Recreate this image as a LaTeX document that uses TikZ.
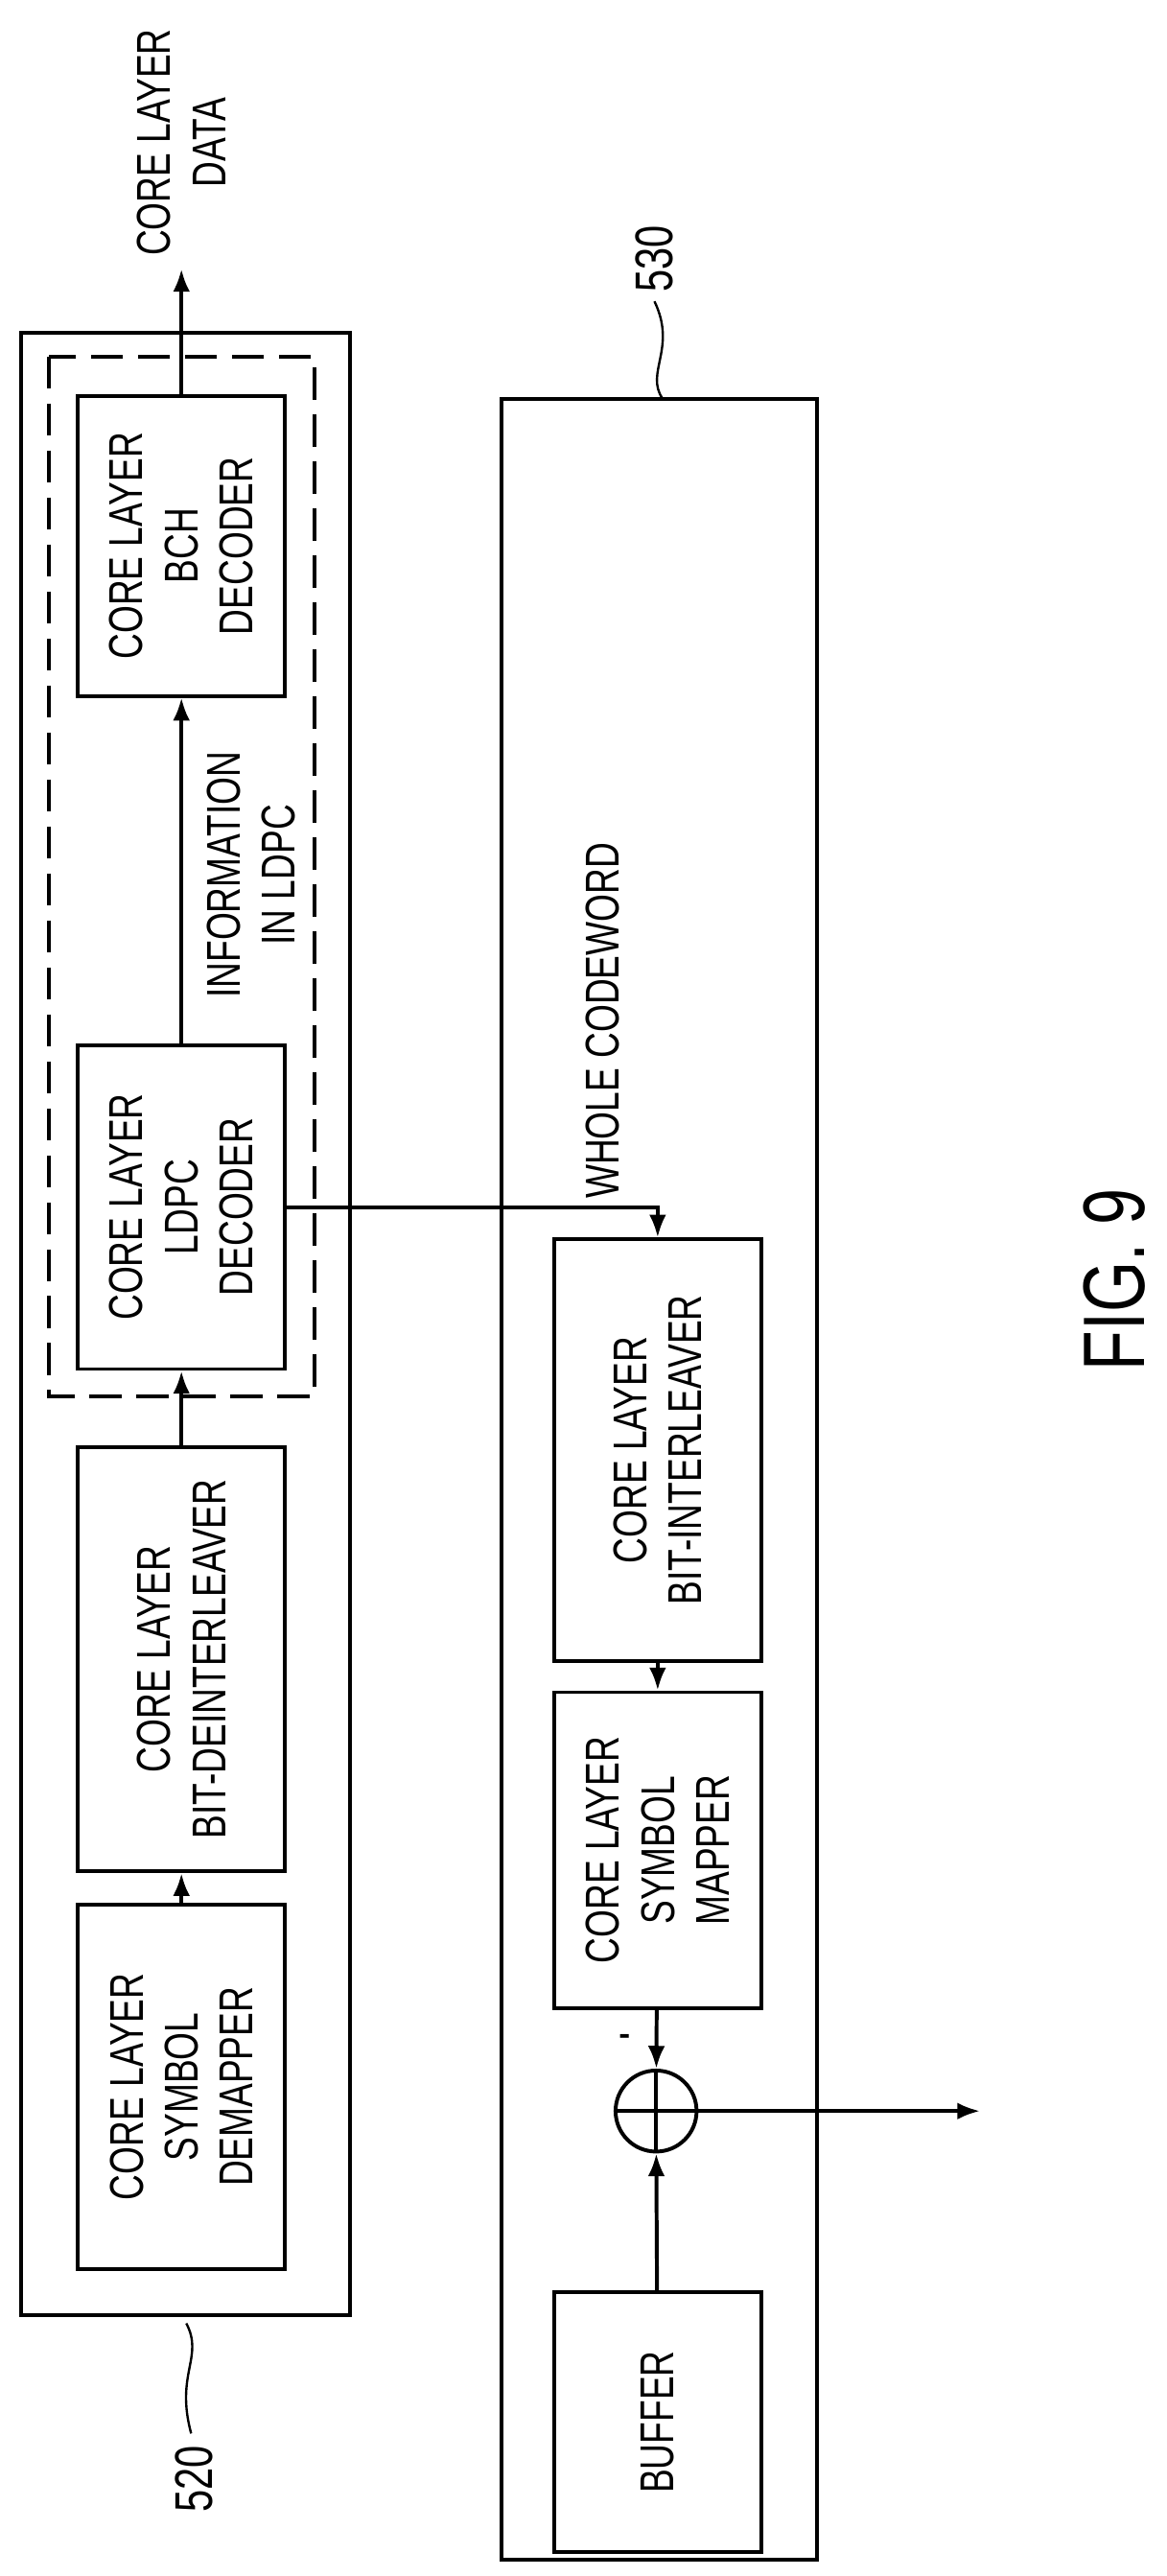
\documentclass[tikz,border=0pt]{standalone}
\usepackage{fontspec}
\setmainfont{Liberation Sans}[FakeStretch=0.75]
\usetikzlibrary{arrows.meta}
\begin{document}
\begin{tikzpicture}[x=0.03cm,y=-0.03cm,line width=2pt,
  box/.style={draw,rotate=90,align=center,inner sep=0pt,font=\fontsize{25}{29}\selectfont},
  lbl/.style={rotate=90,align=center,font=\fontsize{25}{29}\selectfont},
  arr/.style={-{Latex[length=12pt,width=9pt]}}]
\useasboundingbox (0,0) rectangle (720,1590);
\node[box,minimum width=36.7cm,minimum height=6.09cm] (outL) at (114.5,817) {};
\node[box,dash pattern=on 0.6cm off 0.27cm,minimum width=19.26cm,minimum height=4.92cm] (dash) at (112,541) {};
\node[box,minimum width=40.0cm,minimum height=5.85cm] (outR) at (407,913) {};
\node[box,minimum width=5.55cm,minimum height=3.84cm] (bch) at (112,337) {CORE LAYER\\BCH\\DECODER};
\node[box,minimum width=6cm,minimum height=3.84cm] (ldpc) at (112,745) {CORE LAYER\\LDPC\\DECODER};
\node[box,minimum width=7.86cm,minimum height=3.84cm] (deint) at (112,1024) {CORE LAYER\\BIT-DEINTERLEAVER};
\node[box,minimum width=6.75cm,minimum height=3.84cm] (demap) at (112,1288) {CORE LAYER\\SYMBOL\\DEMAPPER};
\node[box,minimum width=7.8cm,minimum height=3.84cm] (intl) at (406,895) {CORE LAYER\\BIT-INTERLEAVER};
\node[box,minimum width=5.85cm,minimum height=3.84cm] (map) at (406,1142) {CORE LAYER\\SYMBOL\\MAPPER};
\node[box,minimum width=4.8cm,minimum height=3.84cm] (buf) at (406,1495) {BUFFER};
\node[draw,circle,minimum size=1.5cm,inner sep=0pt,
  path picture={\draw (path picture bounding box.north) -- (path picture bounding box.south)
  (path picture bounding box.west) -- (path picture bounding box.east);}] (sum) at (405,1303) {};
\coordinate (data) at (112,166);
\coordinate (out) at (605,1303);
\draw[arr] (demap) -- (deint);
\draw[arr] (deint) -- (ldpc);
\draw[arr] (ldpc) -- (bch);
\draw[arr] (bch) -- (data);
\draw[arr] (ldpc) -| (intl);
\draw[arr] (intl) -- (map);
\draw[arr] (map) -- (sum);
\draw[arr] (buf) -- (sum);
\draw[arr] (sum) -- (out);
\node[lbl] (info) at (155,540) {INFORMATION\\IN LDPC};
\node[lbl] (cld) at (112,88) {CORE LAYER\\DATA};
\node[lbl] (wc) at (372,630) {WHOLE CODEWORD};
\node[font=\fontsize{25}{29}\selectfont] (minus) at (386,1260) {-};
\node[lbl,font=\fontsize{28}{32}\selectfont] (n530) at (404,160) {530};
\node[lbl,font=\fontsize{28}{32}\selectfont] (n520) at (120,1530) {520};
\node[lbl,font=\fontsize{46}{52}\selectfont] (fig) at (688,790) {FIG. 9};
\draw[line width=1.2pt] (409,246) .. controls (398,230) and (418,215) .. (404,186);
\draw[line width=1.2pt] (115,1434) .. controls (126,1455) and (108,1465) .. (118,1502);
\end{tikzpicture}
\end{document}
